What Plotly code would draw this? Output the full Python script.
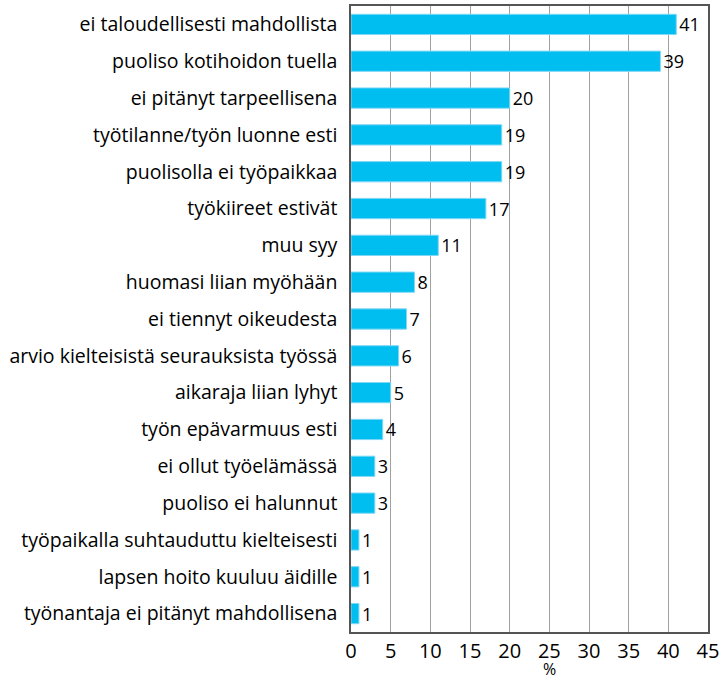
import plotly.graph_objects as go

categories = [
    "ei taloudellisesti mahdollista",
    "puoliso kotihoidon tuella",
    "ei pitänyt tarpeellisena",
    "työtilanne/työn luonne esti",
    "puolisolla ei työpaikkaa",
    "työkiireet estivät",
    "muu syy",
    "huomasi liian myöhään",
    "ei tiennyt oikeudesta",
    "arvio kielteisistä seurauksista työssä",
    "aikaraja liian lyhyt",
    "työn epävarmuus esti",
    "ei ollut työelämässä",
    "puoliso ei halunnut",
    "työpaikalla suhtauduttu kielteisesti",
    "lapsen hoito kuuluu äidille",
    "työnantaja ei pitänyt mahdollisena",
]
values = [41, 39, 20, 19, 19, 17, 11, 8, 7, 6, 5, 4, 3, 3, 1, 1, 1]
x_ticks = [0, 5, 10, 15, 20, 25, 30, 35, 40, 45]

fig = go.Figure(
    go.Bar(
        y=categories,
        x=values,
        orientation="h",
        marker=dict(color="#00BEF0", line=dict(color="#7FD8F5", width=1)),
        width=0.55,
        text=[str(v) for v in values],
        textposition="outside",
        constraintext="none",
        textfont=dict(color="black", size=18),
        cliponaxis=False,
    )
)

fig.update_layout(
    width=719,
    height=677,
    margin=dict(l=351, r=11, t=6, b=45),
    plot_bgcolor="white",
    paper_bgcolor="white",
    font=dict(family="Open Sans, Noto Sans, sans-serif", size=19, color="black"),
    showlegend=False,
    annotations=[
        dict(
            text="%",
            x=25,
            xref="x",
            y=0,
            yref="paper",
            yanchor="top",
            yshift=-24,
            showarrow=False,
            font=dict(size=16, color="black"),
        )
    ],
)
fig.update_xaxes(
    range=[0, 45],
    tickvals=x_ticks,
    ticktext=[str(t) for t in x_ticks],
    showgrid=True,
    gridcolor="#A0A0A0",
    gridwidth=1,
    showline=True,
    linecolor="#555555",
    linewidth=1.5,
    mirror=True,
    ticks="",
    zeroline=False,
    automargin=False,
    ticklabeloverflow="allow",
    tickfont=dict(size=20),
)
fig.update_yaxes(
    autorange="reversed",
    showline=True,
    linecolor="#555555",
    linewidth=1.5,
    mirror=True,
    ticks="",
    ticklabelstandoff=8,
    automargin=False,
    tickfont=dict(size=19.5),
)

fig.write_html(
    "out.html",
    config={"displayModeBar": False},
    post_script="document.body.style.margin='0';document.body.style.overflow='hidden';",
)
